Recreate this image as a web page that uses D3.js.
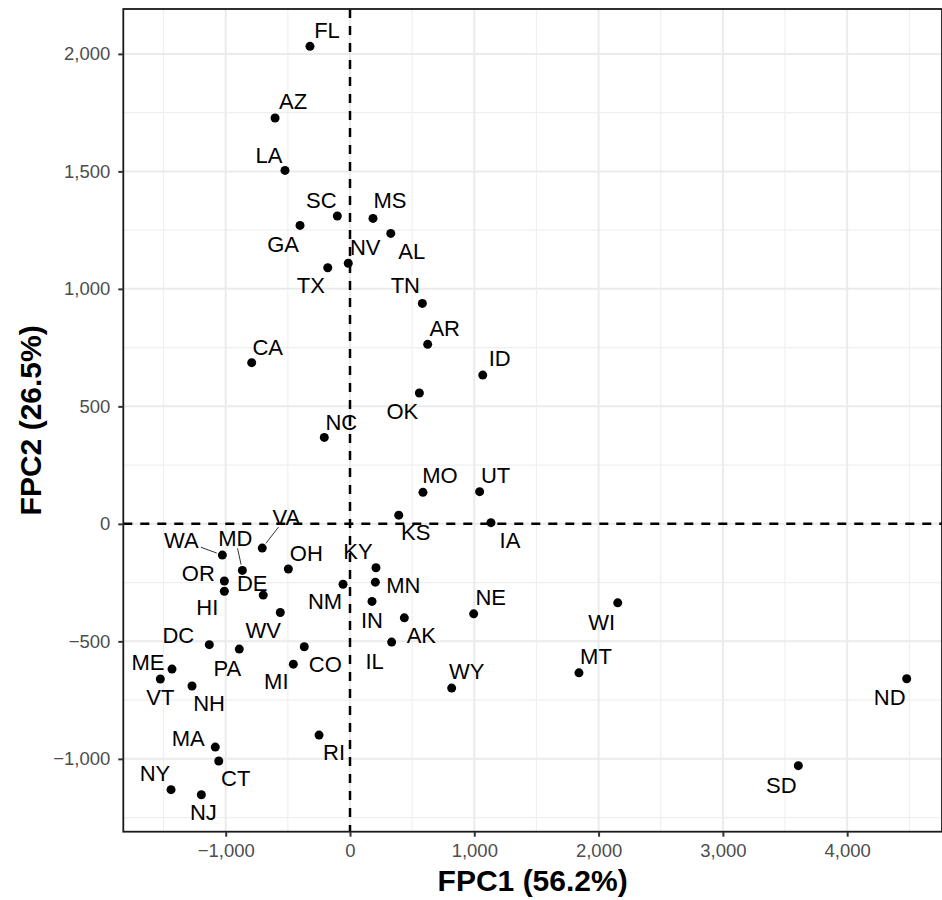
<!DOCTYPE html>
<html>
<head>
<meta charset="utf-8">
<script src="https://cdn.jsdelivr.net/npm/d3@7"></script>
<style>
  body { margin: 0; background: #fff; }
  text { font-family: "Liberation Sans", Arial, sans-serif; }
</style>
</head>
<body>
<div id="chart"></div>
<script>
// state abbreviations and their scores on the first two FPCs
var states = ['FL', 'AZ', 'LA', 'GA', 'SC', 'MS', 'AL', 'NV', 'TX', 'TN',
              'AR', 'ID', 'OK', 'NC', 'MO', 'UT', 'KS', 'IA', 'KY', 'MN',
              'NM', 'IN', 'NE', 'WI', 'AK', 'IL', 'CO', 'WY', 'MT', 'RI',
              'ND', 'SD', 'CA', 'VA', 'WA', 'MD', 'OH', 'OR', 'HI', 'DE',
              'WV', 'PA', 'DC', 'ME', 'VT', 'NH', 'MA', 'CT', 'NY', 'NJ', 'MI'];

var fpc1 = [-322, -603, -523, -402, -102, 185, 328, -14, -179, 582,
            625, 1068, 558, -207, 587, 1043, 392, 1134, 209, 204,
            -56, 177, 995, 2154, 437, 335, -368, 818, 1842, -249,
            4479, 3607, -791, -706, -1027, -866, -496, -1011, -1011, -698,
            -561, -891, -1132, -1432, -1526, -1271, -1084, -1056, -1440, -1196, -456];

var fpc2 = [2032, 1727, 1504, 1270, 1310, 1300, 1236, 1109, 1090, 938,
            764, 633, 557, 368, 134, 137, 37, 5, -187, -248,
            -257, -330, -383, -336, -400, -503, -523, -699, -634, -899,
            -659, -1029, 686, -103, -133, -198, -192, -243, -287, -303,
            -377, -533, -514, -618, -660, -690, -950, -1009, -1131, -1153, -597];

var xTicks = [-1000, 0, 1000, 2000, 3000, 4000];
var yTicks = [-1000, -500, 0, 500, 1000, 1500, 2000];
var xMinor = [-1500, -500, 500, 1500, 2500, 3500, 4500];
var yMinor = [-1250, -750, -250, 250, 750, 1250, 1750];

// repelled label placement (pixel nudges from the point), like ggrepel did it
var labelNudge = {
  FL: [17, -16], AZ: [18, -17], LA: [-16, -15], GA: [-17, 19], SC: [-16, -16],
  MS: [17, -18], AL: [21, 18], NV: [17, -16], TX: [-17, 17], TN: [-17, -18],
  AR: [17, -16], ID: [17, -17], OK: [-17, 18], NC: [17, -15], MO: [17, -17],
  UT: [16, -17], KS: [17, 17], IA: [19, 17], KY: [-18, -17], MN: [28, 3],
  NM: [-18, 17], IN: [0, 19], NE: [17, -17], WI: [-16, 19], AK: [17, 17],
  IL: [-17, 19], CO: [21, 17], WY: [15, -17], MT: [17, -17], RI: [15, 17],
  ND: [-17, 18], SD: [-17, 19], CA: [16, -16], VA: [24, -31], WA: [-41, -15],
  MD: [-7, -32], OH: [18, -16], OR: [-26, -8], HI: [-17, 16], DE: [-11, -12],
  WV: [-17, 18], PA: [-12, 19], DC: [-31, -10], ME: [-24, -7], VT: [0, 18],
  NH: [17, 17], MA: [-27, -9], CT: [17, 17], NY: [-16, -17], NJ: [2, 17], MI: [-17, 17]
};
var withSegment = ['VA', 'WA', 'MD'];

var width = 942,
    height = 900,
    margin = { left: 123.3, right: 0, top: 9, bottom: 68.3 };

var data = states.map(function(s, i) {
  return { name: s, x: fpc1[i], y: fpc2[i] };
});

var svg = d3.select('#chart').append('svg')
    .attr('width', width)
    .attr('height', height);

var xScale = d3.scaleLinear()
    .domain([-1824, 4763])
    .range([margin.left, width - margin.right]);

var yScale = d3.scaleLinear()
    .domain([-1310, 2191])
    .range([height - margin.bottom, margin.top]);

var x0 = margin.left, x1 = width - margin.right,
    y0 = margin.top, y1 = height - margin.bottom;

// grid
var grid = svg.append('g').attr('class', 'grid');
grid.selectAll('line.minor-x').data(xMinor).enter().append('line')
    .attr('x1', d => xScale(d)).attr('x2', d => xScale(d))
    .attr('y1', y0).attr('y2', y1)
    .attr('stroke', '#efefef').attr('stroke-width', 1.2);
grid.selectAll('line.minor-y').data(yMinor).enter().append('line')
    .attr('y1', d => yScale(d)).attr('y2', d => yScale(d))
    .attr('x1', x0).attr('x2', x1)
    .attr('stroke', '#efefef').attr('stroke-width', 1.2);
grid.selectAll('line.major-x').data(xTicks).enter().append('line')
    .attr('x1', d => xScale(d)).attr('x2', d => xScale(d))
    .attr('y1', y0).attr('y2', y1)
    .attr('stroke', '#ebebeb').attr('stroke-width', 2);
grid.selectAll('line.major-y').data(yTicks).enter().append('line')
    .attr('y1', d => yScale(d)).attr('y2', d => yScale(d))
    .attr('x1', x0).attr('x2', x1)
    .attr('stroke', '#ebebeb').attr('stroke-width', 2);

// reference lines at zero
svg.append('line')
    .attr('x1', xScale(0)).attr('x2', xScale(0))
    .attr('y1', y0).attr('y2', y1)
    .attr('stroke', '#000').attr('stroke-width', 2.5)
    .attr('stroke-dasharray', '9,8');
svg.append('line')
    .attr('y1', yScale(0)).attr('y2', yScale(0))
    .attr('x1', x0).attr('x2', x1)
    .attr('stroke', '#000').attr('stroke-width', 2.5)
    .attr('stroke-dasharray', '9,8');

// panel border
svg.append('rect')
    .attr('x', x0).attr('y', y0)
    .attr('width', x1 - x0).attr('height', y1 - y0)
    .attr('fill', 'none')
    .attr('stroke', '#1a1a1a').attr('stroke-width', 1.8);

// axes
var fmt = d3.format(',');
var xAxis = d3.axisBottom(xScale).tickValues(xTicks).tickFormat(fmt).tickSize(5).tickPadding(7);
var yAxis = d3.axisLeft(yScale).tickValues(yTicks).tickFormat(fmt).tickSize(5).tickPadding(8);

var gx = svg.append('g').attr('transform', 'translate(0,' + y1 + ')').call(xAxis);
var gy = svg.append('g').attr('transform', 'translate(' + x0 + ',0)').call(yAxis);

[gx, gy].forEach(function(g) {
  g.select('.domain').remove();
  g.selectAll('.tick line').attr('stroke', '#333').attr('stroke-width', 2);
  g.selectAll('.tick text')
      .attr('fill', '#4d4d4d')
      .style('font-size', '18.5px')
      .style('font-family', '"Liberation Sans", Arial, sans-serif');
});

// axis titles
svg.append('text')
    .attr('x', (x0 + x1) / 2)
    .attr('y', 891)
    .attr('text-anchor', 'middle')
    .style('font-size', '30px')
    .style('font-weight', 'bold')
    .text('FPC1 (56.2%)');

svg.append('text')
    .attr('transform', 'translate(41,' + ((y0 + y1) / 2) + ') rotate(-90)')
    .attr('text-anchor', 'middle')
    .style('font-size', '30px')
    .style('font-weight', 'bold')
    .text('FPC2 (26.5%)');

// points
var r = 4.5;
var chartG = svg.append('g').attr('class', 'chartG');

chartG.selectAll('circle.pt').data(data).enter().append('circle')
    .attr('class', 'pt')
    .attr('cx', d => xScale(d.x))
    .attr('cy', d => yScale(d.y))
    .attr('r', r)
    .attr('fill', '#000');

// labels
var labels = chartG.selectAll('text.lab').data(data).enter().append('text')
    .attr('class', 'lab')
    .attr('x', d => xScale(d.x) + labelNudge[d.name][0])
    .attr('y', d => yScale(d.y) + labelNudge[d.name][1])
    .attr('dy', '0.36em')
    .attr('text-anchor', 'middle')
    .style('font-size', '22px')
    .attr('fill', '#000')
    .text(d => d.name);

// leader segments for labels pushed far from their points
labels.filter(d => withSegment.indexOf(d.name) >= 0).each(function(d) {
  var bb = this.getBBox();
  var px = xScale(d.x), py = yScale(d.y);
  var cx = px + labelNudge[d.name][0], cy = py + labelNudge[d.name][1];
  var hw = bb.width / 2 + 2, hh = 10;
  var dx = px - cx, dy = py - cy;
  var t = Math.min(hw / Math.abs(dx), hh / Math.abs(dy));
  var ex = cx + dx * t, ey = cy + dy * t;
  var len = Math.sqrt(dx * dx + dy * dy);
  var sx = px - dx / len * (r + 1.5), sy = py - dy / len * (r + 1.5);
  chartG.append('line')
      .attr('x1', sx).attr('y1', sy)
      .attr('x2', ex).attr('y2', ey)
      .attr('stroke', '#333').attr('stroke-width', 1);
});
</script>
</body>
</html>
